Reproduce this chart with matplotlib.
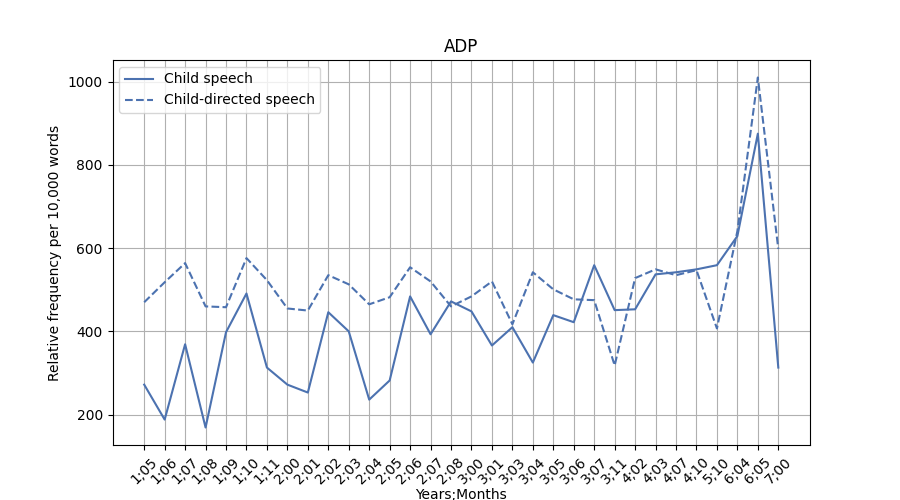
import matplotlib
matplotlib.use("Agg")
import matplotlib.pyplot as plt

ages = ["1;05", "1;06", "1;07", "1;08", "1;09", "1;10", "1;11", "2;00", "2;01", "2;02",
        "2;03", "2;04", "2;05", "2;06", "2;07", "2;08", "3;00", "3;01", "3;03", "3;04",
        "3;05", "3;06", "3;07", "3;11", "4;02", "4;03", "4;07", "4;10", "5;10", "6;04",
        "6;05", "7;00"]
child = [272, 188, 369, 169, 398, 491, 313, 272, 253, 446,
         400, 236, 282, 484, 393, 472, 448, 366, 410, 325,
         439, 422, 559, 451, 453, 537, 542, 549, 559, 629,
         875, 313]
cds = [470, 518, 564, 460, 458, 576, 523, 455, 450, 535,
       513, 465, 482, 554, 520, 460, 484, 520, 417, 542,
       501, 477, 475, 318, 528, 549, 535, 547, 407, 641,
       1010, 598]

color = "#4c72b0"
fig, ax = plt.subplots(figsize=(9, 5), dpi=100)
fig.subplots_adjust(left=0.125, right=0.9, top=0.88, bottom=0.11)
x = range(len(ages))
ax.plot(x, child, color=color, label="Child speech")
ax.plot(x, cds, color=color, linestyle="--", label="Child-directed speech")
ax.set_xticks(list(x))
ax.set_xticklabels(ages, rotation=45)
ax.grid(True, color="#b0b0b0")
ax.set_title("ADP")
ax.set_xlabel("Years;Months", labelpad=1)
ax.set_ylabel("Relative frequency per 10,000 words")
ax.legend(loc="upper left")
fig.savefig("out.png")
